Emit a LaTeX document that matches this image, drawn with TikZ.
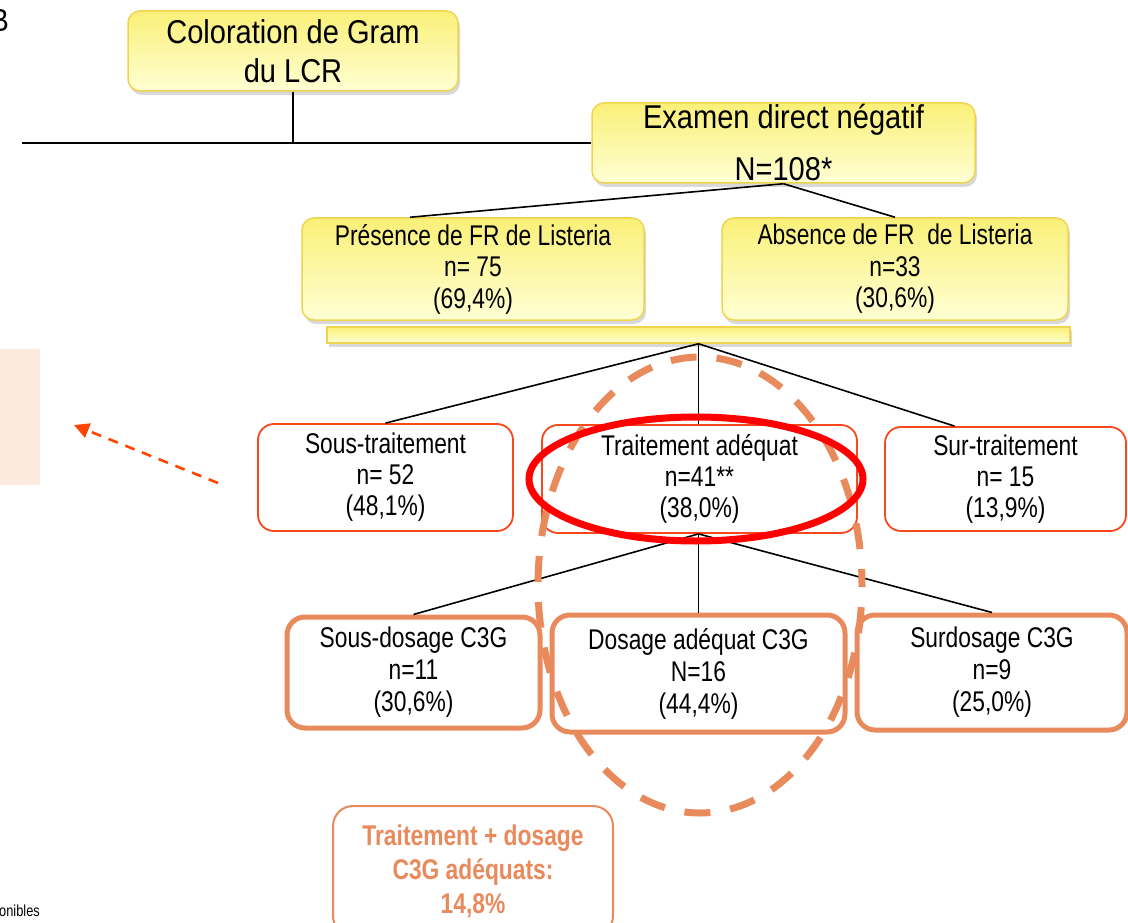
\documentclass[tikz,border=0pt]{standalone}
\usepackage{fontspec}
\setmainfont{Liberation Sans}[FakeStretch=0.8]
\newfontfamily\wideF{Liberation Sans}[FakeStretch=0.88]
\usetikzlibrary{shadows,arrows.meta,calc}
\definecolor{ybord}{RGB}{238,212,80}
\definecolor{ytop}{RGB}{250,240,120}
\definecolor{ybot}{RGB}{255,255,212}
\definecolor{redb}{RGB}{250,72,28}
\definecolor{orb}{RGB}{232,138,92}
\definecolor{peach}{RGB}{253,234,222}
\definecolor{arrred}{RGB}{255,69,0}
\tikzset{
  ybox/.style={draw=ybord, line width=1.5pt, rounded corners=12pt, top color=ytop, bottom color=ybot,
    drop shadow={shadow xshift=2pt, shadow yshift=-4pt, opacity=0.3}, align=center, inner sep=0pt},
  rbox/.style={draw=redb, line width=1.8pt, rounded corners=16pt, fill=white, align=center, inner sep=0pt,
    font=\fontsize{28.5}{31}\selectfont},
  obox/.style={draw=orb, line width=5pt, rounded corners=18pt, fill=white, align=center, inner sep=0pt,
    font=\fontsize{28.5}{32}\selectfont},
  conn/.style={draw=black, line width=1.6pt},
}
\begin{document}
\begin{tikzpicture}[x=1pt,y=1pt]
\useasboundingbox (0,0) rectangle (1128,-923);
% left decorations
\fill[peach] (0,-349) rectangle (40,-485);
\node[anchor=base east, inner sep=0pt, font=\wideF\fontsize{32}{34}\selectfont] (lblB) at (9,-32) {B};
\node[anchor=base east, inner sep=0pt, font=\fontsize{16}{18}\selectfont] (note) at (40,-916) {disponibles};
\coordinate (arrS) at (218,-483);
\coordinate (arrE) at (74,-425);
\draw[arrred, line width=2.6pt, dash pattern=on 10pt off 8pt, -{Triangle[length=15pt,width=15pt]}] (arrS) -- (arrE);

% top boxes
\node[ybox, minimum width=330pt, minimum height=80pt, font=\wideF\fontsize{33}{41}\selectfont] (col) at (293,-51) {\raisebox{-2pt}{Coloration de Gram}\\du LCR};
\node[ybox, minimum width=383pt, minimum height=80pt, font=\wideF\fontsize{33}{52}\selectfont] (exa) at (783.5,-143) {Examen direct négatif\\N=108*};
\coordinate (hl) at (22,-143);
\draw[conn] (col.south) -- (col.south |- exa.west);
\draw[conn] (hl) -- (exa.west);

\node[ybox, minimum width=342pt, minimum height=102pt, font=\fontsize{28.5}{31.5}\selectfont] (pre) at (473,-269) {Présence de FR de Listeria\\n= 75\\(69,4\%)};
\node[ybox, minimum width=346pt, minimum height=102pt, font=\fontsize{28.5}{31.5}\selectfont] (abs) at (895,-269) {Absence de FR\ \ de Listeria\\n=33\\(30,6\%)};
\draw[conn] (exa.south) -- ([xshift=-63pt]pre.north);
\draw[conn] (exa.south) -- (abs.north);

\node[ybox, rounded corners=0pt, minimum width=743pt, minimum height=16pt] (bar) at (698.5,-335) {};

% treatment row
\node[rbox, minimum width=255pt, minimum height=107pt] (sous) at (385.5,-477.5) {Sous-traitement\\n= 52\\(48,1\%)};
\node[rbox, minimum width=315pt, minimum height=108pt] (adeq) at (699.5,-479) {Traitement adéquat\\n=41**\\(38,0\%)};
\node[rbox, minimum width=241pt, minimum height=104pt] (sur) at (1005.5,-479) {Sur-traitement\\n= 15\\(13,9\%)};
\draw[conn] (bar.south) -- (sous.north);
\draw[conn] (bar.south) -- (bar.south |- adeq.north);
\draw[conn] (bar.south) -- ([xshift=-51pt]sur.north);

% dosage row
\node[obox, minimum width=253pt, minimum height=111pt] (sdos) at (413.5,-672.5) {Sous-dosage C3G\\n=11\\(30,6\%)};
\node[obox, minimum width=293pt, minimum height=117pt] (dos) at (698.5,-673.5) {Dosage adéquat C3G\\N=16\\(44,4\%)};
\node[obox, minimum width=270pt, minimum height=115pt] (surd) at (992,-672.5) {Surdosage C3G\\n=9\\(25,0\%)};
\draw[conn] ([xshift=-1pt]adeq.south) -- (sdos.north);
\draw[conn] ([xshift=-1pt]adeq.south) -- (dos.north);
\draw[conn] ([xshift=-1pt]adeq.south) -- (surd.north);

% highlight ellipses
\draw[orb, line width=7pt, dash pattern=on 26pt off 20pt, dash phase=10pt] (700,-585) ellipse [x radius=162pt, y radius=228pt];
\draw[red, line width=7pt] (696,-479) ellipse [x radius=167pt, y radius=62pt];

% bottom summary
\node[draw=orb, line width=2pt, rounded corners=20pt, fill=white, minimum width=280pt, minimum height=130pt,
  align=center, inner sep=0pt, text=orb, font=\bfseries\fontsize{28.5}{34}\selectfont, anchor=north] (tot) at (473,-805)
  {\raisebox{-13pt}{\parbox{280pt}{\centering Traitement + dosage\\C3G adéquats:\\14,8\%}}};
\end{tikzpicture}
\end{document}
